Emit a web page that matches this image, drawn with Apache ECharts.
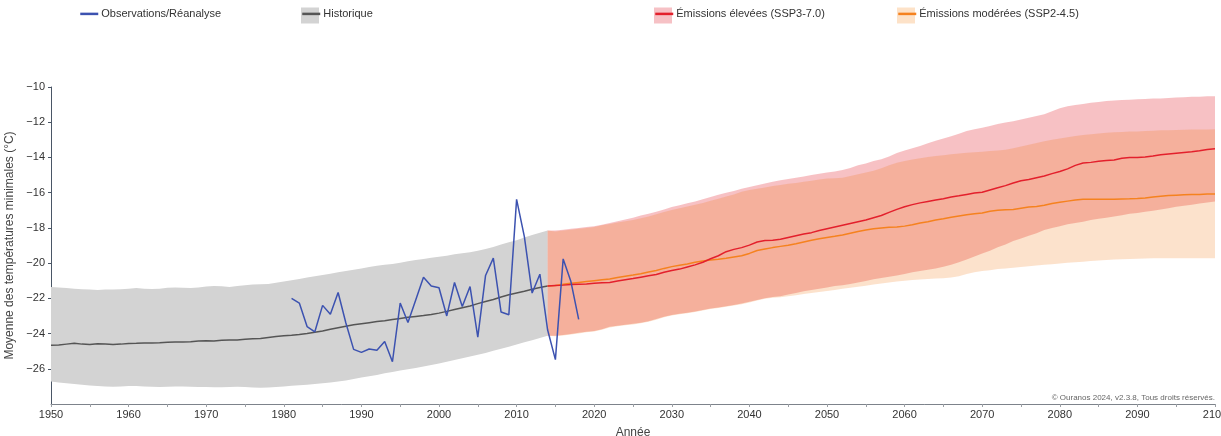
<!DOCTYPE html>
<html lang="fr">
<head>
<meta charset="utf-8">
<title>Moyenne des températures minimales</title>
<script src="https://cdn.jsdelivr.net/npm/echarts@6/dist/echarts.min.js"></script>
<style>
  html, body { margin: 0; padding: 0; background: #ffffff; }
  #chart { width: 1221px; height: 436px; }
</style>
</head>
<body>
<div id="chart"></div>
<script>
// ---- Historical simulations, 1950-2014 ----
const histYears = [];
for (let y = 1950; y <= 2014; y++) histYears.push(y);

const histMean = [
  -24.66, -24.65, -24.60, -24.55, -24.60, -24.62, -24.58, -24.60, -24.62, -24.60,
  -24.56, -24.55, -24.53, -24.53, -24.52, -24.50, -24.48, -24.48, -24.46, -24.42,
  -24.41, -24.42, -24.38, -24.37, -24.36, -24.33, -24.30, -24.28, -24.22, -24.17,
  -24.13, -24.10, -24.06, -24.00, -23.93, -23.86, -23.76, -23.67, -23.58, -23.50,
  -23.44, -23.38, -23.32, -23.27, -23.20, -23.14, -23.08, -23.03, -22.98, -22.92,
  -22.84, -22.74, -22.64, -22.54, -22.44, -22.30, -22.18, -22.07, -21.92, -21.80,
  -21.70, -21.60, -21.48, -21.38, -21.30
];
const histHigh = [
  -21.35, -21.38, -21.42, -21.45, -21.48, -21.50, -21.52, -21.50, -21.50, -21.48,
  -21.45, -21.42, -21.45, -21.47, -21.45, -21.40, -21.38, -21.40, -21.42, -21.38,
  -21.33, -21.30, -21.32, -21.35, -21.30, -21.25, -21.22, -21.20, -21.18, -21.12,
  -21.05, -20.98, -20.90, -20.82, -20.75, -20.68, -20.60, -20.52, -20.45, -20.38,
  -20.30, -20.22, -20.15, -20.10, -20.05, -19.98, -19.90, -19.82, -19.76, -19.70,
  -19.64, -19.58, -19.50, -19.44, -19.38, -19.30, -19.20, -19.08, -18.95, -18.82,
  -18.70, -18.55, -18.40, -18.28, -18.15
];
const histLow = [
  -26.72, -26.78, -26.82, -26.86, -26.90, -26.95, -26.98, -27.00, -27.02, -27.00,
  -26.98, -26.98, -27.00, -27.02, -27.03, -27.02, -27.00, -27.00, -27.02, -27.03,
  -27.04, -27.05, -27.05, -27.03, -27.02, -27.04, -27.06, -27.08, -27.06, -27.03,
  -27.00, -26.97, -26.93, -26.90, -26.86, -26.82, -26.78, -26.72, -26.66, -26.58,
  -26.50, -26.42, -26.35, -26.26, -26.18, -26.10, -26.02, -25.95, -25.87, -25.78,
  -25.70, -25.60, -25.50, -25.40, -25.30, -25.20, -25.10, -24.98, -24.86, -24.75,
  -24.62, -24.50, -24.38, -24.25, -24.12
];

// ---- Observations / reanalysis, 1981-2018 ----
const obsYears = [];
for (let y = 1981; y <= 2018; y++) obsYears.push(y);
const obsValues = [
  -22.00, -22.27, -23.60, -23.90, -22.40, -22.90, -21.67, -23.40, -24.90, -25.07,
  -24.88, -24.95, -24.45, -25.60, -22.27, -23.37, -22.10, -20.80, -21.30, -21.40,
  -23.00, -21.10, -22.46, -21.33, -24.20, -20.70, -19.72, -22.78, -22.93, -16.38,
  -18.50, -21.70, -20.63, -23.80, -25.48, -19.76, -21.05, -23.20
];

// ---- Projections, 2015-2100 ----
const projYears = [];
for (let y = 2015; y <= 2100; y++) projYears.push(y);

const ssp370Mean = [
  -21.27, -21.25, -21.22, -21.20, -21.18, -21.15, -21.12, -21.10, -21.02, -20.95,
  -20.88, -20.80, -20.72, -20.65, -20.52, -20.42, -20.34, -20.22, -20.10, -19.95,
  -19.75, -19.58, -19.35, -19.22, -19.12, -18.98, -18.80, -18.72, -18.70, -18.65,
  -18.55, -18.45, -18.35, -18.27, -18.15, -18.05, -17.95, -17.85, -17.75, -17.65,
  -17.55, -17.42, -17.30, -17.12, -16.95, -16.80, -16.68, -16.58, -16.50, -16.42,
  -16.34, -16.25, -16.18, -16.10, -16.02, -15.98, -15.85, -15.72, -15.60, -15.45,
  -15.32, -15.25, -15.15, -15.05, -14.92, -14.80, -14.65, -14.45, -14.32, -14.28,
  -14.22, -14.18, -14.15, -14.05, -14.00, -14.00, -13.98, -13.92, -13.85, -13.80,
  -13.76, -13.72, -13.68, -13.62, -13.55, -13.50
];
const ssp370High = [
  -18.15, -18.10, -18.05, -18.00, -17.95, -17.90, -17.82, -17.72, -17.62, -17.52,
  -17.42, -17.30, -17.20, -17.08, -16.95, -16.82, -16.72, -16.60, -16.50, -16.38,
  -16.25, -16.12, -16.00, -15.90, -15.78, -15.68, -15.58, -15.48, -15.38, -15.30,
  -15.22, -15.15, -15.08, -15.00, -14.92, -14.85, -14.80, -14.72, -14.60, -14.45,
  -14.35, -14.20, -14.10, -13.95, -13.75, -13.60, -13.48, -13.35, -13.20, -13.05,
  -12.92, -12.80, -12.65, -12.50, -12.40, -12.32, -12.22, -12.10, -12.02, -11.95,
  -11.85, -11.75, -11.65, -11.55, -11.38, -11.20, -11.10, -11.02, -10.96, -10.90,
  -10.85, -10.80, -10.76, -10.74, -10.72, -10.70, -10.68, -10.66, -10.65, -10.62,
  -10.60, -10.58, -10.56, -10.55, -10.53, -10.52
];
const ssp370Low = [
  -24.12, -24.08, -24.02, -23.96, -23.90, -23.85, -23.75, -23.62, -23.55, -23.50,
  -23.45, -23.38, -23.30, -23.18, -23.05, -22.95, -22.88, -22.82, -22.75, -22.66,
  -22.58, -22.52, -22.45, -22.38, -22.30, -22.20, -22.10, -22.00, -21.92, -21.88,
  -21.78, -21.70, -21.60, -21.52, -21.45, -21.38, -21.30, -21.25, -21.18, -21.10,
  -21.02, -20.92, -20.85, -20.78, -20.70, -20.62, -20.52, -20.45, -20.38, -20.30,
  -20.20, -20.10, -19.95, -19.80, -19.62, -19.45, -19.30, -19.10, -18.95, -18.75,
  -18.60, -18.45, -18.30, -18.12, -18.00, -17.90, -17.80, -17.72, -17.65, -17.55,
  -17.48, -17.42, -17.35, -17.28, -17.20, -17.15, -17.08, -17.02, -16.95, -16.88,
  -16.80, -16.74, -16.68, -16.62, -16.56, -16.50
];

const ssp245Mean = [
  -21.27, -21.20, -21.15, -21.10, -21.05, -21.00, -20.95, -20.90, -20.82, -20.75,
  -20.68, -20.60, -20.50, -20.42, -20.30, -20.20, -20.12, -20.05, -19.95, -19.88,
  -19.82, -19.78, -19.72, -19.65, -19.58, -19.45, -19.28, -19.20, -19.12, -19.05,
  -18.98, -18.90, -18.80, -18.70, -18.62, -18.55, -18.48, -18.40, -18.30, -18.20,
  -18.12, -18.05, -18.00, -17.97, -17.95, -17.90, -17.82, -17.72, -17.65, -17.55,
  -17.48, -17.40, -17.32, -17.25, -17.20, -17.15, -17.05, -17.00, -16.97, -16.95,
  -16.88, -16.82, -16.78, -16.72, -16.62, -16.55, -16.48, -16.42, -16.38, -16.38,
  -16.37, -16.37, -16.37, -16.36, -16.35, -16.33, -16.30, -16.25, -16.20, -16.16,
  -16.14, -16.12, -16.11, -16.10, -16.08, -16.07
];
const ssp245High = [
  -18.20, -18.15, -18.10, -18.05, -18.00, -17.95, -17.85, -17.78, -17.70, -17.62,
  -17.55, -17.45, -17.35, -17.22, -17.10, -16.98, -16.88, -16.78, -16.68, -16.58,
  -16.46, -16.35, -16.22, -16.10, -15.95, -15.85, -15.78, -15.70, -15.62, -15.57,
  -15.50, -15.45, -15.38, -15.32, -15.25, -15.20, -15.18, -15.15, -15.05, -14.95,
  -14.85, -14.75, -14.62, -14.45, -14.30, -14.20, -14.12, -14.05, -13.98, -13.92,
  -13.87, -13.82, -13.78, -13.74, -13.70, -13.67, -13.64, -13.61, -13.56, -13.48,
  -13.38, -13.28, -13.18, -13.08, -13.00, -12.92, -12.85, -12.78, -12.72, -12.68,
  -12.64, -12.60, -12.57, -12.55, -12.53, -12.52, -12.50, -12.48, -12.46, -12.45,
  -12.44, -12.43, -12.42, -12.42, -12.41, -12.40
];
const ssp245Low = [
  -24.15, -24.11, -24.05, -23.99, -23.93, -23.88, -23.78, -23.65, -23.58, -23.53,
  -23.48, -23.41, -23.33, -23.21, -23.08, -22.98, -22.91, -22.85, -22.78, -22.69,
  -22.61, -22.55, -22.48, -22.41, -22.33, -22.23, -22.13, -22.03, -21.96, -21.94,
  -21.88, -21.82, -21.76, -21.70, -21.64, -21.58, -21.52, -21.46, -21.40, -21.34,
  -21.28, -21.22, -21.16, -21.10, -21.05, -21.00, -20.96, -20.93, -20.90, -20.88,
  -20.86, -20.82, -20.74, -20.62, -20.52, -20.45, -20.40, -20.34, -20.30, -20.27,
  -20.22, -20.18, -20.14, -20.10, -20.06, -20.02, -19.98, -19.95, -19.92, -19.88,
  -19.85, -19.82, -19.80, -19.78, -19.76, -19.75, -19.74, -19.73, -19.73, -19.72,
  -19.72, -19.72, -19.72, -19.72, -19.72, -19.72
];

// ---- Labels ----
const seriesNames = {
  obs: 'Observations/Réanalyse',
  hist: 'Historique',
  high: 'Émissions élevées (SSP3-7.0)',
  mid: 'Émissions modérées (SSP2-4.5)'
};
const yAxisTitle = 'Moyenne des températures minimales (°C)';
const xAxisTitle = 'Année';
const creditText = '© Ouranos 2024, v2.3.8, Tous droits réservés.';

// ---- Styling ----
const FONT = "'Liberation Sans Narrow', 'Liberation Sans', Arial, sans-serif";
const COLORS = {
  obs: '#3c52b0',
  histLine: '#555555',
  histBand: '#d3d3d3',
  highLine: '#e3202c',
  highBand: 'rgba(228, 50, 60, 0.30)',
  highSwatch: '#f6c1c5',
  midLine: '#f5821f',
  midBand: 'rgba(240, 110, 0, 0.20)',
  midSwatch: '#fde2c8'
};

// Projections continue from the last historical year.
const lastH = histYears.length - 1;
const projX = [histYears[lastH]].concat(projYears);
const withStart = (start, arr) => [start].concat(arr);

function pairs(xs, ys) {
  return xs.map((x, i) => [x, ys[i]]);
}

// Filled envelope between two curves, drawn through the axis scales.
function bandSeries(name, xs, lo, hi, fill) {
  return {
    type: 'custom',
    name: name,
    silent: true,
    z: 1,
    data: [[xs[0], lo[0]]],
    encode: { x: 0, y: 1 },
    renderItem: function (params, api) {
      const top = xs.map((x, i) => api.coord([x, hi[i]]));
      const bottom = xs.map((x, i) => api.coord([x, lo[i]])).reverse();
      return {
        type: 'polygon',
        shape: { points: top.concat(bottom) },
        style: { fill: fill }
      };
    }
  };
}

function lineSeries(name, data, color, width, z) {
  return {
    type: 'line',
    name: name,
    data: data,
    symbol: 'none',
    z: z,
    lineStyle: { color: color, width: width },
    itemStyle: { color: color },
    emphasis: { disabled: true }
  };
}

// Legend entries: line swatch only (no point marker).
const legendBase = {
  padding: 0,
  top: 7.5,
  itemWidth: 18,
  itemHeight: 16,
  itemGap: 4,
  selectedMode: false,
  itemStyle: { opacity: 0 },
  lineStyle: { width: 2.5 },
  textStyle: { fontFamily: FONT, fontSize: 11, color: '#333333', padding: [0, 0, 0, -2] }
};

const chart = echarts.init(document.getElementById('chart'), null, { renderer: 'canvas' });

const option = {
  animation: false,
  backgroundColor: '#ffffff',
  textStyle: { fontFamily: FONT },
  title: {
    text: creditText,
    right: 6,
    top: 394,
    padding: 0,
    textStyle: { fontFamily: FONT, fontSize: 8, fontWeight: 'normal', color: '#666666' }
  },
  legend: [
    Object.assign({}, legendBase, { left: 79, data: [seriesNames.obs] }),
    Object.assign({}, legendBase, { left: 301, data: [seriesNames.hist] }),
    Object.assign({}, legendBase, { left: 654, data: [seriesNames.high] }),
    Object.assign({}, legendBase, { left: 897, data: [seriesNames.mid] })
  ],
  graphic: [
    { type: 'rect', shape: { x: 301, y: 7.5, width: 18, height: 16 }, style: { fill: COLORS.histBand } },
    { type: 'rect', shape: { x: 654, y: 7.5, width: 18, height: 16 }, style: { fill: COLORS.highSwatch } },
    { type: 'rect', shape: { x: 897, y: 7.5, width: 18, height: 16 }, style: { fill: COLORS.midSwatch } }
  ],
  grid: { left: 51, right: 6, top: 87, bottom: 32, outerBoundsMode: 'none', containLabel: false },
  xAxis: {
    type: 'value',
    min: 1950,
    max: 2100,
    interval: 5,
    name: xAxisTitle,
    nameLocation: 'middle',
    nameGap: 23,
    nameTextStyle: { fontFamily: FONT, fontSize: 12, color: '#444444' },
    axisLine: { show: true, lineStyle: { color: '#7d838b', width: 1 } },
    axisTick: { show: true, length: 3, lineStyle: { color: '#9a9ea4' } },
    axisLabel: {
      margin: 5,
      fontFamily: FONT,
      fontSize: 11,
      color: '#333333',
      formatter: v => (v % 10 === 0 ? String(v) : '')
    },
    splitLine: { show: false }
  },
  yAxis: {
    type: 'value',
    min: -28,
    max: -10,
    interval: 2,
    name: yAxisTitle,
    nameLocation: 'middle',
    nameGap: 30,
    nameRotate: 90,
    nameTextStyle: { fontFamily: FONT, fontSize: 12, color: '#444444' },
    axisLine: { show: true, lineStyle: { color: '#4a5666', width: 1 } },
    axisTick: { show: true, length: 3, lineStyle: { color: '#4a5666' } },
    axisLabel: {
      margin: 6,
      fontFamily: FONT,
      fontSize: 11,
      color: '#333333',
      showMinLabel: false,
      formatter: v => String(v).replace('-', '\u2212')
    },
    splitLine: { show: false }
  },
  series: [
    bandSeries(seriesNames.hist + ' (plage)', histYears, histLow, histHigh, COLORS.histBand),
    bandSeries(seriesNames.high + ' (plage)', projX,
      withStart(histLow[lastH], ssp370Low), withStart(histHigh[lastH], ssp370High), COLORS.highBand),
    bandSeries(seriesNames.mid + ' (plage)', projX,
      withStart(histLow[lastH], ssp245Low), withStart(histHigh[lastH], ssp245High), COLORS.midBand),
    lineSeries(seriesNames.hist, pairs(histYears, histMean), COLORS.histLine, 1.5, 3),
    lineSeries(seriesNames.mid, pairs(projX, withStart(histMean[lastH], ssp245Mean)), COLORS.midLine, 1.5, 3),
    lineSeries(seriesNames.high, pairs(projX, withStart(histMean[lastH], ssp370Mean)), COLORS.highLine, 1.5, 4),
    lineSeries(seriesNames.obs, pairs(obsYears, obsValues), COLORS.obs, 1.5, 5)
  ]
};

chart.setOption(option);
</script>
</body>
</html>
